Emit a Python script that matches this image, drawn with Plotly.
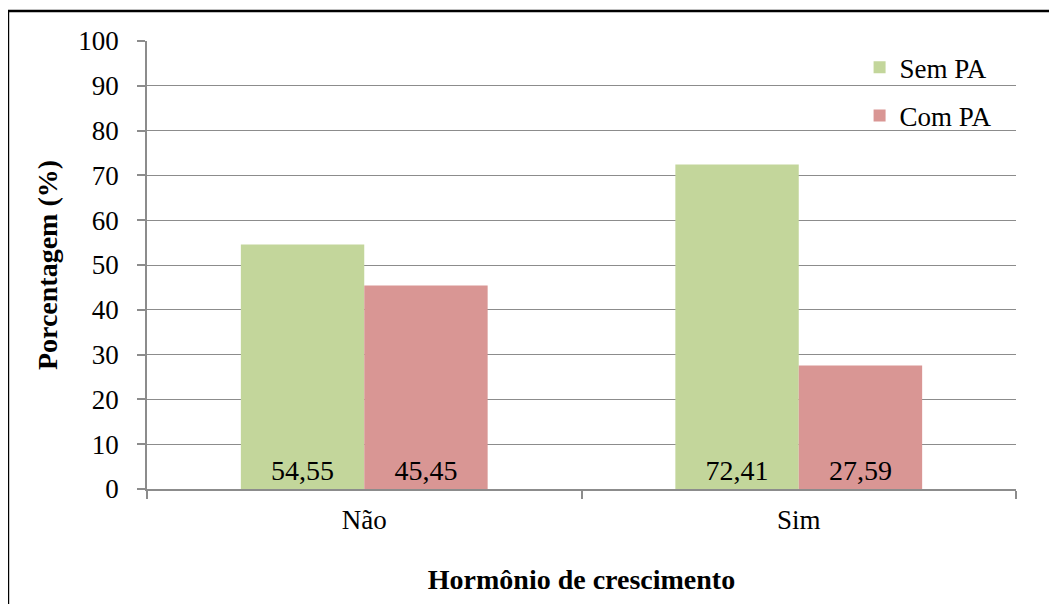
import plotly.graph_objects as go

categories = ["Não", "Sim"]
sem_pa = [54.55, 72.41]
com_pa = [45.45, 27.59]
series_names = ["Sem PA", "Com PA"]
y_ticks = [0, 10, 20, 30, 40, 50, 60, 70, 80, 90, 100]

FONT = "Liberation Serif, Times New Roman, serif"
GRAY = "#8c8c8c"

fig = go.Figure()
fig.add_trace(go.Bar(
    x=categories, y=sem_pa, name=series_names[0], legendgroup="a",
    marker=dict(color="#C3D69B", line=dict(width=0)),
    texttemplate="%{y:.2f}", textposition="inside", insidetextanchor="start",
    textangle=0, textfont=dict(family=FONT, size=28, color="black"),
))
fig.add_trace(go.Bar(
    x=categories, y=com_pa, name=series_names[1], legendgroup="b",
    marker=dict(color="#D99694", line=dict(width=0)),
    texttemplate="%{y:.2f}", textposition="inside", insidetextanchor="start",
    textangle=0, textfont=dict(family=FONT, size=28, color="black"),
))

fig.update_layout(
    width=1041, height=596,
    margin=dict(l=139, r=33, t=33, b=115),
    paper_bgcolor="white", plot_bgcolor="white",
    separators=",.",
    barmode="group", bargap=0.432, bargroupgap=0,
    font=dict(family=FONT, size=27, color="black"),
    showlegend=True,
    legend=dict(x=0.82, y=0.995, xanchor="left", yanchor="top",
                font=dict(family=FONT, size=27, color="black"),
                traceorder="grouped", tracegroupgap=10,
                bgcolor="rgba(0,0,0,0)"),
    xaxis=dict(
        type="category", tickson="boundaries", ticks="outside", ticklen=8,
        tickcolor=GRAY, tickwidth=1.5,
        showline=True, linecolor=GRAY, linewidth=1.5,
        showgrid=False, tickfont=dict(family=FONT, size=27),
        ticklabelstandoff=6,
        title=dict(text="<b>Hormônio de crescimento</b>", standoff=35,
                   font=dict(family=FONT, size=28)),
    ),
    yaxis=dict(
        range=[0, 100], tickvals=y_ticks, ticks="outside", ticklen=8,
        tickcolor=GRAY, tickwidth=1.5,
        showline=True, linecolor=GRAY, linewidth=1.5,
        showgrid=True, gridcolor=GRAY, gridwidth=1.2,
        zeroline=False, tickfont=dict(family=FONT, size=27),
        ticklabelstandoff=13,
        title=dict(text="<b>Porcentagem (%)</b>", standoff=13,
                   font=dict(family=FONT, size=28)),
    ),
)

fig.add_shape(type="rect", xref="paper", yref="paper",
              x0=-0.16, x1=1.06, y0=-0.3, y1=1.067,
              line=dict(color="black", width=2.5), fillcolor="rgba(0,0,0,0)",
              layer="above")

fig.write_html("out.html")
